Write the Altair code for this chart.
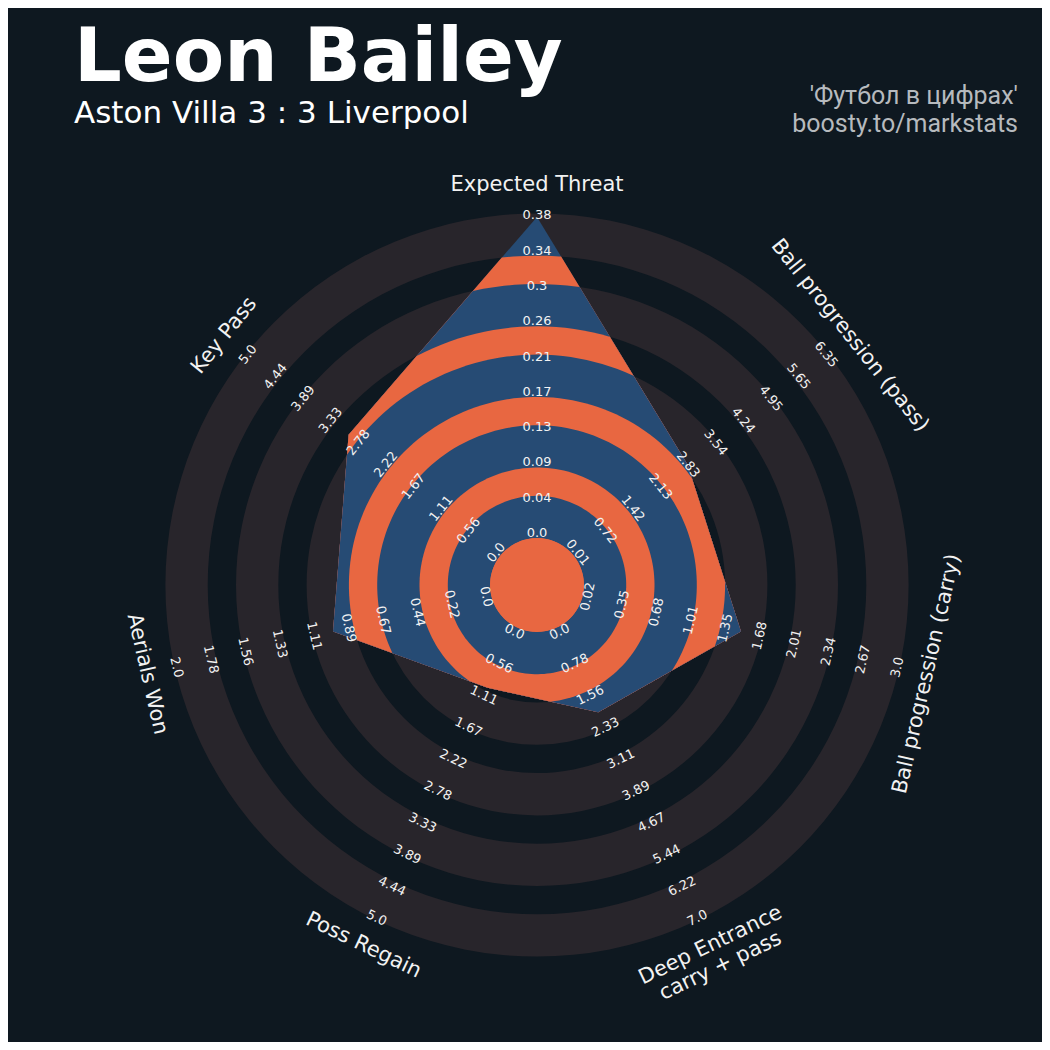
import math
import altair as alt
import pandas as pd

# ---------------- data ----------------
params = ["Expected Threat", "Ball progression (pass)", "Ball progression (carry)",
          "Deep Entrance\ncarry + pass", "Poss Regain", "Aerials Won", "Key Pass"]
values = [0.38, 2.85, 1.51, 2.0, 1.0, 1.0, 3.0]
low = [0.0, 0.01, 0.02, 0.0, 0.0, 0.0, 0.0]
high = [0.38, 6.35, 3.0, 7.0, 5.0, 2.0, 5.0]
tick_labels = [
    ["0.0", "0.04", "0.09", "0.13", "0.17", "0.21", "0.26", "0.3", "0.34", "0.38"],
    ["0.01", "0.72", "1.42", "2.13", "2.83", "3.54", "4.24", "4.95", "5.65", "6.35"],
    ["0.02", "0.35", "0.68", "1.01", "1.35", "1.68", "2.01", "2.34", "2.67", "3.0"],
    ["0.0", "0.78", "1.56", "2.33", "3.11", "3.89", "4.67", "5.44", "6.22", "7.0"],
    ["0.0", "0.56", "1.11", "1.67", "2.22", "2.78", "3.33", "3.89", "4.44", "5.0"],
    ["0.0", "0.22", "0.44", "0.67", "0.89", "1.11", "1.33", "1.56", "1.78", "2.0"],
    ["0.0", "0.56", "1.11", "1.67", "2.22", "2.78", "3.33", "3.89", "4.44", "5.0"],
]
title_text = "Leon Bailey"
subtitle_text = "Aston Villa 3 : 3 Liverpool"
credit_lines = ["'Футбол в цифрах'", "boosty.to/markstats"]

# ---------------- style / geometry ----------------
BG = "#0E1820"
RING = "#28252B"
BLUE = "#264B74"
ORANGE = "#E86741"
TEXT = "#F2F2F2"
CREDIT = "#B6BABE"

W = H = 800
CX, CY = W / 2, H / 2
R0, STEP, HALF = 50.4, 35.3, 3.5   # ring boundaries in px
K = 400.0                           # gnomonic projection scale
n = len(params)

# polygon in gnomonic (pole-centred) coordinates
coords = []
for i, (v, lo, hi) in enumerate(zip(values, low, high)):
    frac = min(max((v - lo) / (hi - lo), 0.0), 1.0)
    r = R0 + frac * 9 * STEP
    c = math.degrees(math.atan(r / K))
    lon = 180.0 - i * 360.0 / n
    coords.append([lon, 90.0 - c])
coords.append(coords[0])
feature = {"type": "Feature", "properties": {},
           "geometry": {"type": "Polygon", "coordinates": [coords]}}

ring_in = [R0 + 2 * j * STEP - HALF for j in range(5)]
ring_out = [R0 + (2 * j + 1) * STEP + HALF for j in range(5)]

layers = []

# background rings
rings_df = pd.DataFrame({"r_in": ring_in, "r_out": ring_out})
layers.append(
    alt.Chart(rings_df).mark_arc(theta=0, theta2=2 * math.pi, color=RING, strokeWidth=0)
    .encode(radius=alt.Radius("r_out:Q", scale=None), radius2=alt.Radius2("r_in:Q"))
)

# radar polygon bands (polygon clipped to successively smaller circles)
bands = []
for j in range(4, -1, -1):
    bands.append((ring_out[j], BLUE))
    bands.append((ring_in[j], ORANGE))
for R, col in bands:
    layers.append(
        alt.Chart(alt.InlineData(values=[feature])).mark_geoshape(fill=col, strokeWidth=0)
        .project(type="gnomonic", scale=K, translate=[CX, CY], rotate=[0, -90, 0],
                 clipAngle=math.degrees(math.atan(R / K)))
    )

# centre circle
layers.append(
    alt.Chart(pd.DataFrame({"r": [ring_in[0]]})).mark_arc(theta=0, theta2=2 * math.pi,
                                                           color=ORANGE, strokeWidth=0)
    .encode(radius=alt.Radius("r:Q", scale=None))
)


def rot_for(i):
    d = (i * 360.0 / n) % 360
    if 90 < d < 270:
        d -= 180
    return d % 360


# tick labels
rows = []
for i in range(n):
    for k, lab in enumerate(tick_labels[i]):
        rows.append({"theta": i * 2 * math.pi / n, "k": k, "label": lab, "rot": rot_for(i)})
ticks_df = pd.DataFrame(rows)
layers.append(
    alt.Chart(ticks_df).mark_text(font="DejaVu Sans", fontSize=13, color=TEXT,
                                  align="center", baseline="middle")
    .encode(theta=alt.Theta("theta:Q", scale=None, stack=False),
            radius=alt.Radius("k:Q", scale=alt.Scale(type="linear", domain=[0, 9],
                                                     range=[52, 369.7], zero=False)),
            text="label:N",
            angle=alt.Angle("rot:Q", scale=None))
)

# parameter names
pdf = pd.DataFrame({"theta": [i * 2 * math.pi / n for i in range(n)],
                    "name": params,
                    "rot": [rot_for(i) for i in range(n)]})
layers.append(
    alt.Chart(pdf).mark_text(font="DejaVu Sans", fontSize=21, color=TEXT,
                             align="center", baseline="middle", lineBreak="\n")
    .encode(theta=alt.Theta("theta:Q", scale=None, stack=False),
            radius=alt.value(400),
            text="name:N",
            angle=alt.Angle("rot:Q", scale=None))
)

# titles
layers.append(
    alt.Chart(pd.DataFrame({"t": [title_text]})).mark_text(
        font="DejaVu Sans", fontSize=75, fontWeight="bold", color="#FFFFFF",
        align="left", baseline="alphabetic")
    .encode(text="t:N", x=alt.value(-63), y=alt.value(-104))
)
layers.append(
    alt.Chart(pd.DataFrame({"t": [subtitle_text]})).mark_text(
        font="DejaVu Sans", fontSize=31, color="#FFFFFF",
        align="left", baseline="alphabetic")
    .encode(text="t:N", x=alt.value(-63), y=alt.value(-62))
)
layers.append(
    alt.Chart(pd.DataFrame({"t": [credit_lines[0]]})).mark_text(
        font="Roboto", fontSize=25, color=CREDIT, align="right", baseline="alphabetic")
    .encode(text="t:N", x=alt.value(881), y=alt.value(-81))
)
layers.append(
    alt.Chart(pd.DataFrame({"t": [credit_lines[1]]})).mark_text(
        font="Roboto", fontSize=25, color=CREDIT, align="right", baseline="alphabetic")
    .encode(text="t:N", x=alt.value(881), y=alt.value(-53))
)

chart = alt.layer(*layers).properties(
    width=W, height=H,
    autosize=alt.AutoSizeParams(type="none"),
    padding={"left": 129, "top": 177, "right": 105, "bottom": 57},
    background=BG,
).configure_view(strokeWidth=0)

chart.save("out.html", embed_options={"renderer": "svg", "actions": False})
